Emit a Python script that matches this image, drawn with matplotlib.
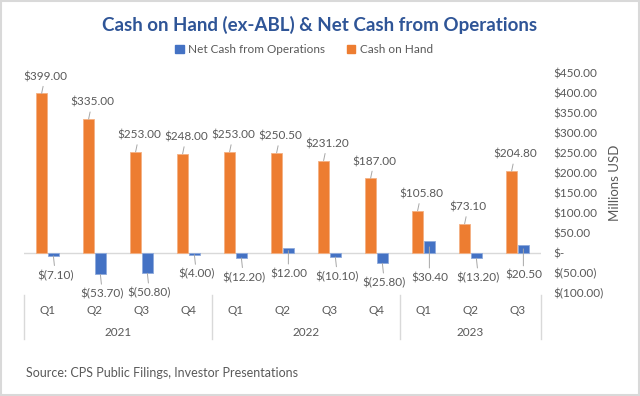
import matplotlib.pyplot as plt
import matplotlib.ticker as mticker
from matplotlib.patches import Patch, Rectangle
import numpy as np

plt.rcParams['font.family'] = ['Lato', 'DejaVu Sans']

quarters = ['Q1', 'Q2', 'Q3', 'Q4', 'Q1', 'Q2', 'Q3', 'Q4', 'Q1', 'Q2', 'Q3']
years = ['2021', '2022', '2023']
year_sizes = [4, 4, 3]
cash_on_hand = [399.00, 335.00, 253.00, 248.00, 253.00, 250.50, 231.20, 187.00, 105.80, 73.10, 204.80]
net_cash_ops = [-7.10, -53.70, -50.80, -4.00, -12.20, 12.00, -10.10, -25.80, 30.40, -13.20, 20.50]

ORANGE = '#ED7D31'
BLUE = '#4472C4'
GREY = '#595959'
LINE = '#D9D9D9'


def money(v):
    if v < 0:
        return '$({:.2f})'.format(-v)
    return '${:.2f}'.format(v)


def axis_money(v, pos):
    if abs(v) < 1e-9:
        return '$-'
    return money(v)


fig = plt.figure(figsize=(6.4, 3.96), dpi=100)
ax = fig.add_axes([24 / 640, 1 - 293 / 396, (541 - 24) / 640, 220 / 396])

x = np.arange(len(quarters))
w = 0.24
ax.bar(x - 0.125, cash_on_hand, w, color=ORANGE, edgecolor='#F4B183', linewidth=0.6, zorder=3)
ax.bar(x + 0.125, net_cash_ops, w, color=BLUE, edgecolor='#8FAADC', linewidth=0.6, zorder=3)

ax.set_xlim(-0.5, len(quarters) - 0.5)
ax.set_ylim(-100, 450)
ax.axhline(0, color=LINE, lw=1, zorder=2)

# data labels with leader lines
lp = dict(arrowstyle='-', color='#A6A6A6', lw=0.7, shrinkA=1, shrinkB=0)
for i, v in enumerate(cash_on_hand):
    ax.annotate(money(v), xy=(x[i] - 0.125, v), xytext=(2.5, 12), textcoords='offset points',
                ha='center', va='center', fontsize=8.5, color=GREY, arrowprops=lp, zorder=4)
for i, v in enumerate(net_cash_ops):
    if v < 0:
        ax.annotate(money(v), xy=(x[i] + 0.125, v), xytext=(1.5, -14), textcoords='offset points',
                    ha='center', va='center', fontsize=8.5, color=GREY, arrowprops=lp, zorder=4)
    else:
        ax.annotate(money(v), xy=(x[i] + 0.125, v / 2), xytext=(0, -13 - v * 0.3), textcoords='offset points',
                    ha='center', va='center', fontsize=8.5, color=GREY, arrowprops=lp, zorder=4)

# right value axis
ax.yaxis.tick_right()
ax.yaxis.set_label_position('right')
ax.set_yticks(np.arange(-100, 451, 50))
ax.yaxis.set_major_formatter(mticker.FuncFormatter(axis_money))
ax.tick_params(axis='y', length=0, pad=9, labelsize=8.5, labelcolor=GREY)
for t in ax.get_yticklabels():
    t.set_horizontalalignment('left')
ax.set_ylabel('Millions USD', fontsize=9.5, color=GREY, labelpad=4)

ax.set_xticks([])
for s in ax.spines.values():
    s.set_visible(False)

# two-level category axis
tr = ax.get_xaxis_transform()
for i, q in enumerate(quarters):
    ax.text(x[i], -0.078, q, transform=tr, ha='center', va='center', fontsize=8.5, color=GREY)
start = 0
edges = [start - 0.5]
for yr, n in zip(years, year_sizes):
    ax.text(start + (n - 1) / 2, -0.18, yr, transform=tr, ha='center', va='center', fontsize=8.5, color=GREY)
    start += n
    edges.append(start - 0.5)
for e in edges:
    ax.plot([e, e], [-0.01, -0.21], transform=tr, color=LINE, lw=1, clip_on=False)

fig.text(0.5, 0.937, 'Cash on Hand (ex-ABL) & Net Cash from Operations', ha='center', va='center',
         fontsize=13.5, fontweight='bold', color='#2F5597')
handles = [Patch(color=BLUE, label='Net Cash from Operations'), Patch(color=ORANGE, label='Cash on Hand')]
fig.legend(handles=handles, loc='center', bbox_to_anchor=(0.475, 0.874), ncol=2, frameon=False,
           fontsize=8.5, handlelength=0.7, handleheight=0.7, handletextpad=0.4, columnspacing=1.8,
           labelcolor=GREY)
fig.text(26 / 640, 1 - 373 / 396, 'Source: CPS Public Filings, Investor Presentations', ha='left',
         va='center', fontsize=9, color=GREY)

fig.patches.append(Rectangle((0.002, 0.003), 0.996, 0.994, transform=fig.transFigure, fill=False,
                             edgecolor='#D9D9D9', lw=1.5))

fig.savefig('out.png', dpi=100)
